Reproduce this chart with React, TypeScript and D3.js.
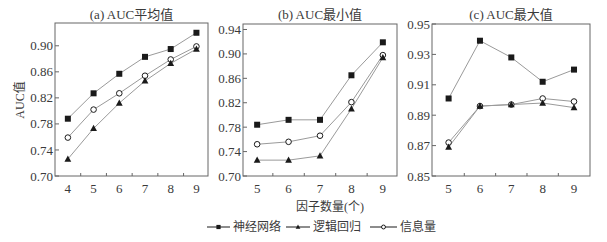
import React from "react";
import * as d3 from "d3";

const seriesNames = ["神经网络", "逻辑回归", "信息量"];

// (a) mean AUC, x = 4..9
const meanX = [4, 5, 6, 7, 8, 9];
const meanNN = [0.788, 0.827, 0.857, 0.883, 0.895, 0.92];
const meanLR = [0.726, 0.773, 0.812, 0.846, 0.873, 0.895];
const meanIV = [0.759, 0.802, 0.827, 0.854, 0.879, 0.899];

// (b) min AUC, x = 5..9
const minX = [5, 6, 7, 8, 9];
const minNN = [0.784, 0.792, 0.792, 0.865, 0.919];
const minLR = [0.726, 0.726, 0.733, 0.81, 0.894];
const minIV = [0.752, 0.756, 0.766, 0.821, 0.898];

// (c) max AUC, x = 5..9
const maxX = [5, 6, 7, 8, 9];
const maxNN = [0.901, 0.939, 0.928, 0.912, 0.92];
const maxLR = [0.869, 0.896, 0.897, 0.898, 0.895];
const maxIV = [0.872, 0.896, 0.897, 0.901, 0.899];

const meanTicks = [0.7, 0.74, 0.78, 0.82, 0.86, 0.9];
const minTicks = [0.7, 0.74, 0.78, 0.82, 0.86, 0.9, 0.94];
const maxTicks = [0.85, 0.87, 0.89, 0.91, 0.93, 0.95];

const NUM_FONT = "'Liberation Serif', 'Noto Sans CJK SC', serif";
const TEXT = "#3a3a3a";
const AXIS = "#666";
const LINE = "#9a9a9a";
const MARK = "#1a1a1a";

interface PanelProps {
  title: string;
  xs: number[];
  series: number[][];
  yTicks: number[];
  xDomain: [number, number];
  yDomain: [number, number];
  box: { x0: number; x1: number; y0: number; y1: number };
  decimals: number;
}

const Marker: React.FC<{ kind: number; cx: number; cy: number; s?: number }> = ({
  kind,
  cx,
  cy,
  s = 1,
}) => {
  if (kind === 0) {
    return <rect x={cx - 3 * s} y={cy - 3 * s} width={6 * s} height={6 * s} fill={MARK} />;
  }
  if (kind === 1) {
    return (
      <path
        d={`M${cx},${cy - 3.6 * s}L${cx + 3.4 * s},${cy + 2.6 * s}L${cx - 3.4 * s},${cy + 2.6 * s}Z`}
        fill={MARK}
      />
    );
  }
  return <circle cx={cx} cy={cy} r={2.8 * s} fill="#fff" stroke={MARK} strokeWidth={1} />;
};

const Panel: React.FC<PanelProps> = ({ title, xs, series, yTicks, xDomain, yDomain, box, decimals }) => {
  const x = d3.scaleLinear().domain(xDomain).range([box.x0, box.x1]);
  const y = d3.scaleLinear().domain(yDomain).range([box.y1, box.y0]);
  const line = d3
    .line<number>()
    .x((_, i) => x(xs[i]))
    .y((d) => y(d));
  const halfTicks = xs.slice(0, -1).map((v) => v + 0.5);
  // draw order: NN, IV, LR (triangles on top)
  const order = [0, 2, 1];
  return (
    <g>
      <text
        x={(box.x0 + box.x1) / 2}
        y={19}
        textAnchor="middle"
        fontSize={13}
        fill={TEXT}
        fontFamily={NUM_FONT}
      >
        {title}
      </text>
      <rect
        x={box.x0}
        y={box.y0}
        width={box.x1 - box.x0}
        height={box.y1 - box.y0}
        fill="none"
        stroke={AXIS}
        strokeWidth={1}
      />
      {yTicks.map((t) => (
        <g key={t}>
          <line x1={box.x0} x2={box.x0 + 4} y1={y(t)} y2={y(t)} stroke={AXIS} />
          <text
            x={box.x0 - 2}
            y={y(t)}
            dy="0.35em"
            textAnchor="end"
            fontSize={13}
            fill={TEXT}
            fontFamily={NUM_FONT}
          >
            {t.toFixed(decimals)}
          </text>
        </g>
      ))}
      {halfTicks.map((t) => (
        <line key={t} x1={x(t)} x2={x(t)} y1={box.y1} y2={box.y1 - 3} stroke={AXIS} />
      ))}
      {xs.map((t) => (
        <text
          key={t}
          x={x(t)}
          y={193}
          textAnchor="middle"
          fontSize={13}
          fill={TEXT}
          fontFamily={NUM_FONT}
        >
          {t}
        </text>
      ))}
      {order.map((k) => (
        <path key={"l" + k} d={line(series[k]) || ""} fill="none" stroke={LINE} strokeWidth={1} />
      ))}
      {order.map((k) =>
        series[k].map((v, i) => <Marker key={k + "-" + i} kind={k} cx={x(xs[i])} cy={y(v)} />)
      )}
    </g>
  );
};

const App: React.FC = () => {
  const legendItems = [
    { x0: 207, tx: 233 },
    { x0: 286, tx: 313 },
    { x0: 370, tx: 400 },
  ];
  return (
    <svg
      width={607}
      height={242}
      style={{ position: "absolute", left: 0, top: 0, background: "#fff" }}
    >
      <Panel
        title="(a) AUC平均值"
        xs={meanX}
        series={[meanNN, meanLR, meanIV]}
        yTicks={meanTicks}
        xDomain={[3.5, 9.45]}
        yDomain={[0.7, 0.935]}
        box={{ x0: 55, x1: 208, y0: 23, y1: 176 }}
        decimals={2}
      />
      <Panel
        title="(b) AUC最小值"
        xs={minX}
        series={[minNN, minLR, minIV]}
        yTicks={minTicks}
        xDomain={[4.55, 9.45]}
        yDomain={[0.7, 0.949]}
        box={{ x0: 243, x1: 397, y0: 24, y1: 176 }}
        decimals={2}
      />
      <Panel
        title="(c) AUC最大值"
        xs={maxX}
        series={[maxNN, maxLR, maxIV]}
        yTicks={maxTicks}
        xDomain={[4.47, 9.51]}
        yDomain={[0.85, 0.95]}
        box={{ x0: 432, x1: 590, y0: 24, y1: 176 }}
        decimals={2}
      />
      <text
        transform="translate(24,100) rotate(-90)"
        textAnchor="middle"
        fontSize={12}
        fill={TEXT}
        fontFamily={NUM_FONT}
      >
        AUC值
      </text>
      <text x={330} y={211} textAnchor="middle" fontSize={12} fill={TEXT} fontFamily={NUM_FONT}>
        因子数量(个)
      </text>
      {seriesNames.map((name, k) => {
        const it = legendItems[k];
        const cy = 227;
        return (
          <g key={name}>
            <line x1={it.x0} x2={it.tx - 3} y1={cy} y2={cy} stroke={MARK} strokeWidth={1} />
            <Marker kind={k} cx={(it.x0 + it.tx - 3) / 2} cy={cy} s={0.7} />
            <text x={it.tx} y={cy} dy="0.35em" fontSize={12} fill={TEXT} fontFamily={NUM_FONT}>
              {name}
            </text>
          </g>
        );
      })}
    </svg>
  );
};

export default App;
